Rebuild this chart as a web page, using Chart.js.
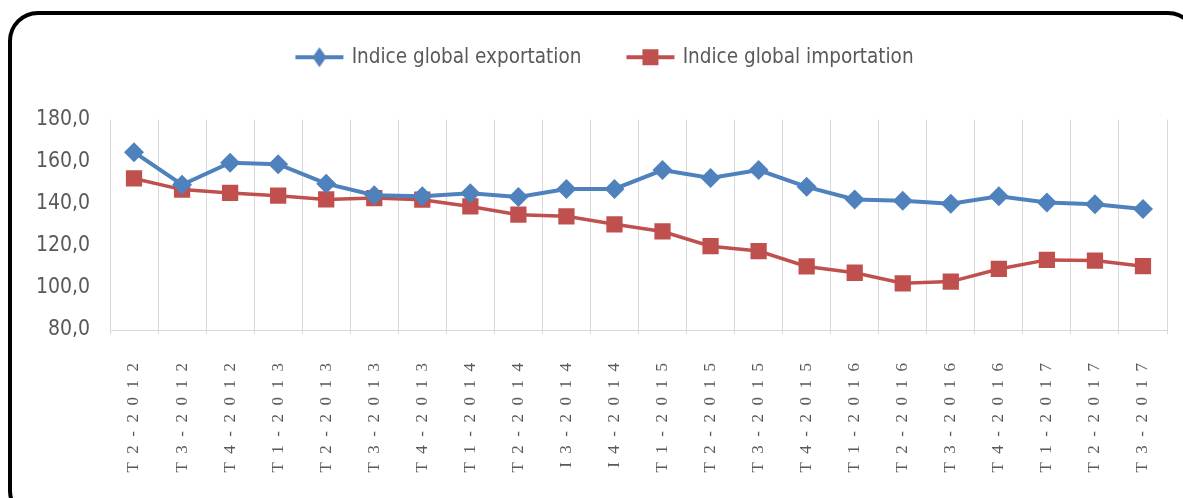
<!DOCTYPE html>
<html>
<head>
<meta charset="utf-8">
<script src="https://cdn.jsdelivr.net/npm/chart.js@4"></script>
<style>
  html, body { margin: 0; padding: 0; background: #fff; overflow: hidden; }
  #frame {
    position: absolute; left: 8px; top: 11px; width: 1190px; height: 510px;
    box-sizing: border-box; border: 4px solid #000; border-radius: 30px;
  }
  #wrap { position: absolute; left: 0; top: 0; width: 1183px; height: 498px; }
</style>
</head>
<body>
<div id="frame"></div>
<div id="wrap"><canvas id="chart" width="1183" height="498"></canvas></div>
<script>
const categories = [
  'T2-2012', 'T3-2012', 'T4-2012', 'T1-2013', 'T2-2013', 'T3-2013', 'T4-2013',
  'T1-2014', 'T2-2014', 'I3-2014', 'I4-2014', 'T1-2015', 'T2-2015', 'T3-2015',
  'T4-2015', 'T1-2016', 'T2-2016', 'T3-2016', 'T4-2016', 'T1-2017', 'T2-2017', 'T3-2017'
];
const exportIndex = [
  164.5, 149.0, 159.5, 158.8, 149.5, 144.0, 143.5,
  145.0, 143.2, 147.0, 147.0, 156.0, 152.2, 156.0,
  148.0, 142.0, 141.4, 140.0, 143.5, 140.6, 139.7, 137.5
];
const importIndex = [
  152.0, 146.7, 145.1, 143.8, 142.0, 142.7, 141.9,
  138.7, 134.8, 134.0, 130.2, 126.8, 119.8, 117.5,
  110.2, 107.2, 102.2, 103.0, 109.0, 113.3, 113.0, 110.3
];
const yTicks = [80, 100, 120, 140, 160, 180];

const blue = '#4F81BD';
const red = '#C0504D';
const gridColor = '#D9D9D9';
const textColor = '#595959';
const narrowFont = "'Liberation Sans Narrow', 'DejaVu Sans Condensed', sans-serif";

// legend swatch: line with the marker in the middle
function legendSwatch(color, marker) {
  const c = document.createElement('canvas');
  c.width = 50; c.height = 22;
  const g = c.getContext('2d');
  g.strokeStyle = color;
  g.lineWidth = 4;
  g.beginPath(); g.moveTo(1, 11); g.lineTo(49, 11); g.stroke();
  g.fillStyle = color;
  if (marker === 'diamond') {
    g.beginPath();
    g.moveTo(25, 1); g.lineTo(32, 11); g.lineTo(25, 21); g.lineTo(18, 11);
    g.closePath(); g.fill();
  } else {
    g.fillRect(17, 3, 16, 16);
  }
  return c;
}

const spaced = s => s.split('').join('\u2002');

// extra room under the legend, and nudge it to the right
const legendTweak = {
  id: 'legendTweak',
  beforeInit(chart) {
    const fit = chart.legend.fit;
    chart.legend.fit = function () {
      fit.call(this);
      this.height += 42;
    };
  },
  afterLayout(chart) {
    chart.legend.left += 22;
    chart.legend.right += 22;
  }
};

new Chart(document.getElementById('chart'), {
  type: 'line',
  data: {
    labels: categories,
    datasets: [{
      label: 'Indice global exportation',
      data: exportIndex,
      borderColor: blue,
      backgroundColor: blue,
      borderWidth: 4,
      pointStyle: 'rectRot',
      pointRadius: 10,
      pointHoverRadius: 10,
      pointBorderWidth: 0,
      tension: 0
    }, {
      label: 'Indice global importation',
      data: importIndex,
      borderColor: red,
      backgroundColor: red,
      borderWidth: 3.5,
      pointStyle: 'rect',
      pointRadius: 11.5,
      pointHoverRadius: 11.5,
      pointBorderWidth: 0,
      tension: 0
    }]
  },
  options: {
    responsive: false,
    animation: false,
    layout: { padding: { top: 0, left: 0, right: 16, bottom: 0 } },
    plugins: {
      tooltip: { enabled: false },
      legend: {
        position: 'top',
        labels: {
          usePointStyle: true,
          pointStyleWidth: 44,
          padding: 47,
          color: textColor,
          font: { family: narrowFont, size: 20.5 },
          generateLabels(chart) {
            return chart.data.datasets.map((ds, i) => ({
              text: ds.label,
              fontColor: textColor,
              pointStyle: legendSwatch(ds.borderColor, i === 0 ? 'diamond' : 'square'),
              datasetIndex: i,
              hidden: false,
              lineWidth: 0
            }));
          }
        }
      }
    },
    scales: {
      x: {
        offset: true,
        grid: { display: true, offset: true, color: gridColor, lineWidth: 1, drawTicks: true, tickLength: 4 },
        border: { display: true, color: gridColor, width: 1 },
        ticks: {
          autoSkip: false,
          minRotation: 90,
          maxRotation: 90,
          padding: 29,
          color: textColor,
          font: { family: "'Liberation Serif', serif", size: 17 },
          callback: (v, i) => spaced(categories[i])
        },
        afterFit(scale) {
          scale.height = 168;
          scale.paddingLeft = 0;
          scale.paddingRight = 0;
        }
      },
      y: {
        min: 80,
        max: 180,
        afterBuildTicks(scale) { scale.ticks = yTicks.map(v => ({ value: v })); },
        grid: { display: false, drawTicks: false },
        border: { display: false },
        ticks: {
          padding: 20,
          color: textColor,
          font: { family: narrowFont, size: 21 },
          callback: v => v.toFixed(1).replace('.', ',')
        },
        afterFit(scale) { scale.width = 110; }
      }
    }
  },
  plugins: [legendTweak]
});
</script>
</body>
</html>
